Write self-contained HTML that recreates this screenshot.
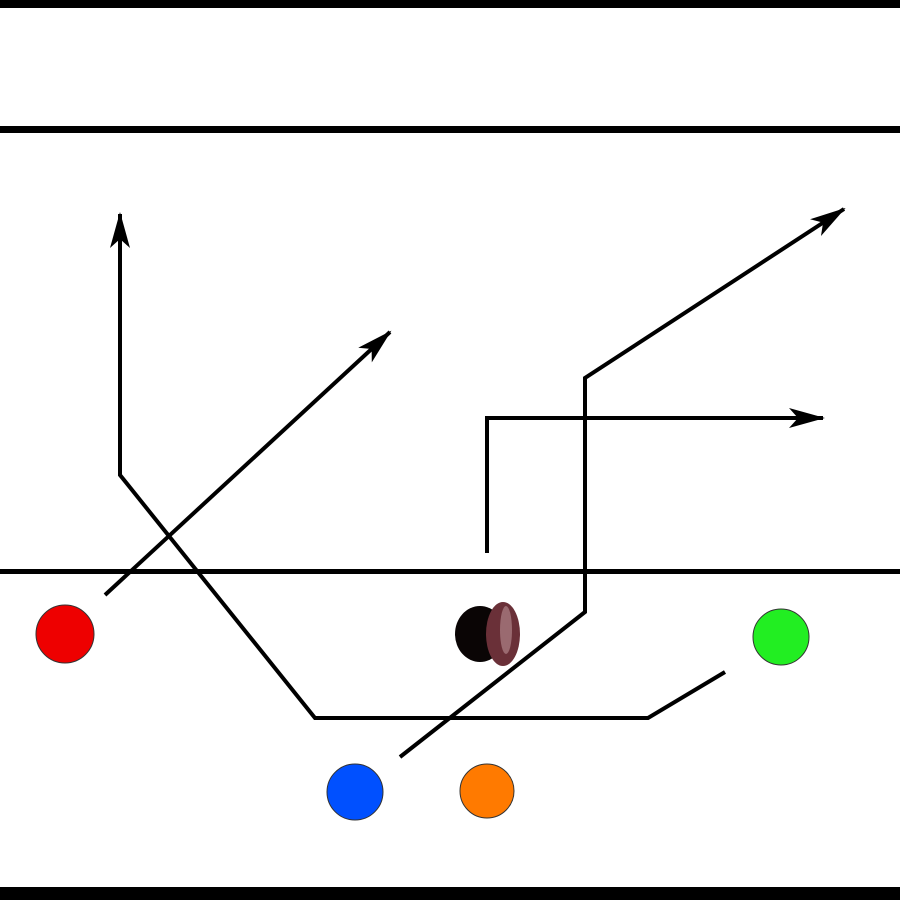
<!DOCTYPE html>
<html><head><style>html,body{margin:0;padding:0;background:#fff;}svg{display:block}</style></head>
<body>
<svg width="900" height="900" viewBox="0 0 900 900" xmlns="http://www.w3.org/2000/svg">
<defs>
<marker id="a" markerWidth="12" markerHeight="10" refX="10" refY="5" orient="auto" markerUnits="userSpaceOnUse" viewBox="0 0 12 10">
<path d="M0,0 L12,5 L0,10 L3,5 Z" fill="#000"/></marker>
<marker id="b" viewBox="0 0 36 24" refX="34" refY="12" markerWidth="36" markerHeight="24" orient="auto" markerUnits="userSpaceOnUse">
<path d="M0,2 L36,12 L0,22 L9,12 Z" fill="#000"/></marker>
</defs>
<rect x="0" y="0" width="900" height="8" fill="#000"/>
<rect x="0" y="126" width="900" height="7" fill="#000"/>
<rect x="0" y="569" width="900" height="5" fill="#000"/>
<rect x="0" y="887" width="900" height="13" fill="#000"/>
<g fill="none" stroke="#000" stroke-width="4" stroke-linejoin="miter">
<polyline points="725,672 648,718 315,718 120,475 120,214" marker-end="url(#b)"/>
<polyline points="105,595 390,332" marker-end="url(#b)"/>
<polyline points="400,757 585,612 585,378 844,209" marker-end="url(#b)"/>
<polyline points="487,553 487,418 823,418" marker-end="url(#b)"/>
</g>
<circle cx="65" cy="634" r="29" fill="#ee0000" stroke="#333" stroke-width="1"/>
<circle cx="781" cy="637" r="28" fill="#22ee22" stroke="#333" stroke-width="1"/>
<circle cx="355" cy="792" r="28" fill="#0050ff" stroke="#333" stroke-width="1"/>
<circle cx="487" cy="791" r="27" fill="#ff7a00" stroke="#333" stroke-width="1"/>
<ellipse cx="480" cy="634" rx="25" ry="28" fill="#0a0505"/>
<ellipse cx="503" cy="634" rx="17" ry="32" fill="#6a3038"/>
<ellipse cx="506" cy="630" rx="6" ry="24" fill="#9a6a70"/>
</svg>
</body></html>
